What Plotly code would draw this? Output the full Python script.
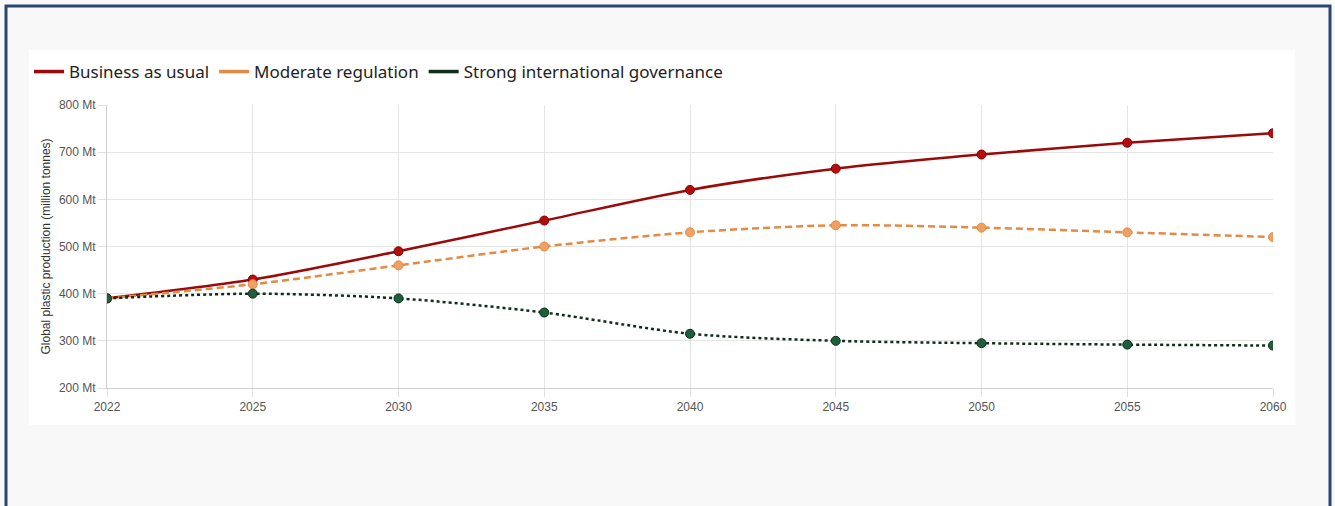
import plotly.graph_objects as go

years = ["2022", "2025", "2030", "2035", "2040", "2045", "2050", "2055", "2060"]
business_as_usual = [390, 430, 490, 555, 620, 665, 695, 720, 740]
moderate_regulation = [390, 420, 460, 500, 530, 545, 540, 530, 520]
strong_governance = [390, 400, 390, 360, 315, 300, 295, 292, 290]
y_ticks = [200, 300, 400, 500, 600, 700, 800]
y_tick_labels = [f"{v} Mt" for v in y_ticks]

W, H = 1335, 506
L, R, T, B = 107, 62, 105, 118
pw = W - L - R
ph = H - T - B

def px_x(p):
    return (p - L) / pw

def px_y(p):
    return (H - B - p) / ph

series = [
    ("Business as usual", business_as_usual, "#9b0a0a", "#b50d0d", "#8a0000", "solid"),
    ("Moderate regulation", moderate_regulation, "#e38b45", "#f0a062", "#e38b45", "7px,4px"),
    ("Strong international governance", strong_governance, "#0d2e1a", "#1d5e3b", "#0d2e1a", "3px,3px"),
]

fig = go.Figure()
for name, vals, lc, mc, mlc, dash in series:
    fig.add_trace(go.Scatter(
        x=years, y=vals, mode="lines+markers", name=name, showlegend=False,
        line=dict(color=lc, width=2.5, dash=dash, shape="spline", smoothing=0.8),
        marker=dict(size=9, color=mc, line=dict(color=mlc, width=1)),
    ))
for name, vals, lc, mc, mlc, dash in series:
    fig.add_trace(go.Scatter(
        x=[None], y=[None], mode="lines", name=name, showlegend=True,
        line=dict(color=lc, width=3.5),
    ))

shapes = [
    # white panel
    dict(type="rect", xref="paper", yref="paper", layer="below",
         x0=px_x(29), x1=px_x(1295), y0=px_y(425), y1=px_y(50),
         fillcolor="white", line=dict(width=0)),
    # outer border
    dict(type="rect", xref="paper", yref="paper", layer="below",
         x0=px_x(6), x1=px_x(1330), y0=px_y(520), y1=px_y(6),
         fillcolor="rgba(0,0,0,0)", line=dict(color="#2c4572", width=3)),
]

fig.update_layout(
    width=W, height=H,
    margin=dict(l=L, r=R, t=T, b=B, autoexpand=False),
    paper_bgcolor="#f8f8f8", plot_bgcolor="white",
    shapes=shapes,
    showlegend=True,
    legend=dict(orientation="h", x=px_x(29), y=px_y(72), xanchor="left", yanchor="middle",
                font=dict(family="Noto Sans", size=17, color="#222"),
                bgcolor="rgba(0,0,0,0)", itemwidth=30, traceorder="normal"),
    font=dict(family="Liberation Sans, Arial", size=12, color="#666"),
    annotations=[dict(
        text="Global plastic production (million tonnes)", textangle=-90,
        xref="paper", yref="paper", x=px_x(45), y=0.5, xanchor="center", yanchor="middle",
        showarrow=False, font=dict(family="Liberation Sans, Arial", size=12, color="#333"),
    )],
)
fig.update_xaxes(
    type="category", categoryorder="array", categoryarray=years, range=[0, 8],
    showgrid=True, gridcolor="#e5e5e5", gridwidth=1,
    showline=True, linecolor="#d0d0d0", linewidth=1,
    ticks="outside", ticklen=8, tickcolor="#e0e0e0",
    tickfont=dict(family="Liberation Sans, Arial", size=12, color="#555"),
    zeroline=False,
)
fig.update_yaxes(
    range=[200, 800], tickmode="array", tickvals=y_ticks, ticktext=y_tick_labels,
    showgrid=True, gridcolor="#e5e5e5", gridwidth=1,
    showline=True, linecolor="#d0d0d0", linewidth=1,
    ticks="outside", ticklen=8, tickcolor="#e0e0e0",
    tickfont=dict(family="Liberation Sans, Arial", size=12, color="#555"),
    zeroline=False,
)

fig.write_html("out.html", config={"displayModeBar": False},
               post_script="document.body.style.margin='0';")
